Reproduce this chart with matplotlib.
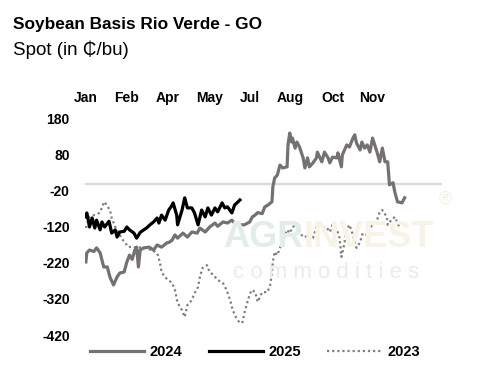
import matplotlib
matplotlib.use("Agg")
import matplotlib.pyplot as plt

plt.rcParams['font.family'] = ['Liberation Sans', 'DejaVu Sans']

# day of year / basis value (cents per bushel)
d2024 = [0, 1, 4, 9, 12, 16, 20, 24, 27, 31, 35, 38, 43, 46, 49, 52, 55, 57, 59, 61, 65, 71,
         76, 80, 85, 91, 94, 97, 100, 103, 109, 114, 119, 125, 128, 134, 139, 145, 148, 154,
         159, 164, 167, 173, 178, 184, 187, 190, 193, 198, 201, 204, 209, 210, 212, 215, 218,
         221, 226, 227, 229, 231, 232, 235, 237, 240, 244, 246, 249, 251, 255, 259, 260, 265,
         268, 272, 274, 277, 282, 283, 287, 288, 293, 296, 300, 302, 304, 308, 310, 313, 316,
         319, 322, 327, 330, 333, 336, 339, 341, 345, 347, 350, 355, 358]
v2024 = [-217, -192, -184, -188, -178, -192, -231, -231, -259, -281, -259, -248, -245, -217,
         -198, -210, -184, -176, -231, -184, -178, -176, -184, -170, -176, -164, -162, -156,
         -142, -151, -137, -148, -134, -137, -123, -134, -120, -109, -118, -106, -109, -101,
         -109, -114, -114, -106, -92, -87, -80, -83, -64, -60, -50, -9, 16, 24, 52, 44, 47, 108,
         141, 116, 127, 99, 116, 102, 72, 44, 72, 47, 58, 72, 88, 61, 88, 72, 58, 74, 72, 86,
         47, 80, 108, 102, 127, 136, 113, 94, 116, 99, 108, 88, 127, 88, 61, 99, 61, 61, -3, 3,
         -23, -50, -53, -39]

d2025 = [0, 1, 3, 4, 7, 10, 12, 16, 18, 21, 26, 29, 33, 35, 38, 43, 46, 49, 54, 57, 61, 65,
         68, 72, 76, 80, 82, 85, 89, 93, 97, 98, 102, 103, 108, 111, 114, 119, 122, 126, 130,
         134, 137, 141, 145, 148, 153, 156, 159, 164, 167, 171, 173]
v2025 = [-92, -81, -105, -120, -95, -123, -101, -128, -106, -120, -104, -137, -128, -148,
         -134, -132, -120, -128, -137, -151, -135, -128, -123, -114, -106, -95, -109, -87,
         -101, -73, -59, -53, -87, -114, -73, -39, -67, -67, -81, -114, -73, -92, -67, -87, -67,
         -78, -53, -67, -64, -81, -59, -50, -45]

d2023 = [0, 4, 9, 15, 18, 20, 21, 24, 27, 29, 33, 37, 40, 44, 48, 52, 57, 63, 68, 74, 80, 83,
         85, 89, 97, 100, 103, 108, 111, 114, 119, 122, 126, 128, 131, 136, 139, 143, 148, 154,
         158, 162, 165, 169, 173, 176, 178, 182, 186, 190, 193, 198, 204, 207, 209, 210, 212,
         215, 218, 221, 226, 229, 232, 237, 240, 244, 248, 251, 255, 259, 263, 266, 270, 274,
         277, 282, 285, 287, 290, 293, 296, 300, 302, 304, 308, 311, 315, 319, 322, 327, 330,
         333, 338, 339, 343, 347, 350, 352]
v2023 = [-123, -92, -87, -81, -67, -53, -50, -62, -73, -95, -120, -137, -151, -164, -176, -174,
         -178, -176, -180, -184, -192, -217, -245, -260, -276, -295, -331, -351, -370, -337,
         -323, -304, -287, -259, -234, -226, -245, -253, -267, -276, -295, -323, -351, -373,
         -387, -384, -359, -323, -295, -300, -328, -301, -301, -281, -245, -217, -189, -198,
         -178, -156, -128, -137, -120, -114, -134, -148, -146, -156, -151, -120, -114, -123,
         -120, -134, -114, -128, -151, -203, -170, -128, -114, -142, -164, -178, -162, -137,
         -142, -123, -114, -101, -78, -73, -92, -114, -101, -92, -109, -120]

tick_days = [0, 46, 92, 139, 184, 230, 277, 322]
tick_labels = ['Jan', 'Feb', 'Apr', 'May', 'Jul', 'Aug', 'Oct', 'Nov']
y_ticks = [180, 80, -20, -120, -220, -320, -420]

fig = plt.figure(figsize=(4.9, 3.77), dpi=100)
ax = fig.add_axes([85 / 490, 0.1114, 357 / 490, 0.573])

# faint watermark
t1 = fig.text(0.455, 0.369, 'AGR', fontsize=26, fontweight='bold',
              color='#e2edea', va='center', ha='left', zorder=0)
fig.canvas.draw()
bb = t1.get_window_extent()
fig.text(bb.x1 / fig.bbox.width, 0.369, 'INVEST', fontsize=26,
         fontweight='bold', color='#f7f3e7', va='center', ha='left', zorder=0)
fig.text(0.475, 0.278, 'c o m m o d i t i e s', fontsize=16, color='#e6eeec',
         va='center', ha='left', zorder=0)
fig.text(0.895, 0.47, '\u00ae', fontsize=13, color='#f5f0e2', va='center', ha='left', zorder=0)
ax.patch.set_alpha(0)

ax.axhline(0, color='#d9d9d9', lw=1.6, zorder=1)
ax.plot(d2024, v2024, color='#767171', lw=2.3, label='2024', zorder=3)
ax.plot(d2025, v2025, color='black', lw=2.3, label='2025', zorder=4)
ax.plot(d2023, v2023, color='#7f7f7f', lw=1.6, linestyle=(0, (1, 1.3)), label='2023', zorder=2)

ax.set_xlim(-1, 400)
ax.set_ylim(-420, 180)
ax.set_yticks(y_ticks)
ax.set_yticklabels([str(t) for t in y_ticks], fontweight='bold', fontsize=10)
ax.set_xticks(tick_days)
ax.set_xticklabels(tick_labels, fontweight='bold', fontsize=10)
ax.xaxis.tick_top()
ax.tick_params(axis='x', length=0, pad=10)
ax.tick_params(axis='y', length=0, pad=11)
for s in ax.spines.values():
    s.set_visible(False)

fig.text(0.027, 0.936, 'Soybean Basis Rio Verde - GO', fontsize=12.4, fontweight='bold', va='center')
fig.text(0.027, 0.867, 'Spot (in \u20b5/bu)', fontsize=13.5, va='center')

fig.legend(loc='center', bbox_to_anchor=(0.52, 0.066), ncol=3, frameon=False,
           prop={'weight': 'bold', 'size': 10.5}, handlelength=3.7, handletextpad=0.4,
           columnspacing=1.8)

fig.savefig('out.png', dpi=100)
